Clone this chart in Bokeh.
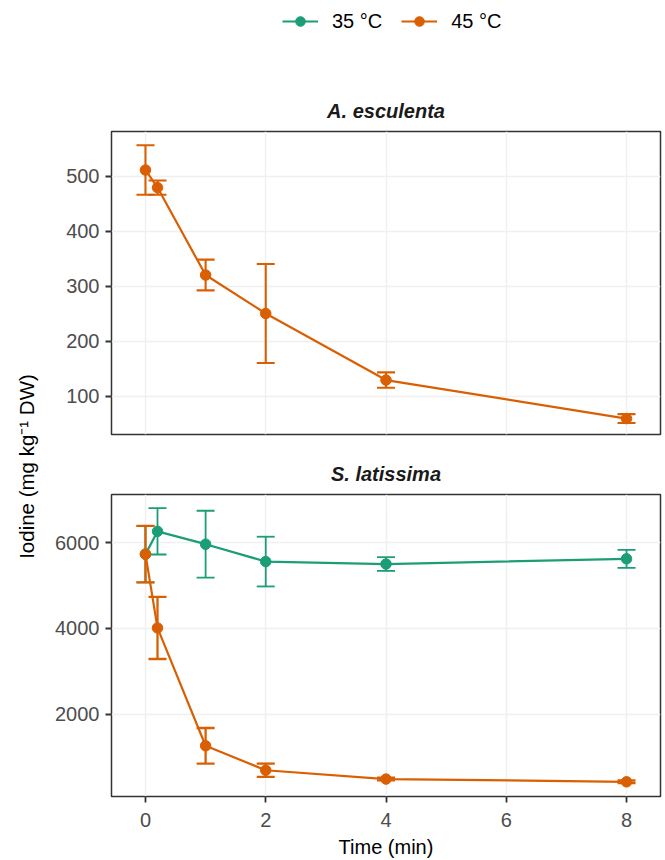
import math
from bokeh.plotting import figure
from bokeh.models import (Range1d, FixedTicker, Whisker, TeeHead, ColumnDataSource,
                          Legend, LegendItem, Label, Title)
from bokeh.layouts import row, column
from bokeh.embed import file_html
from bokeh.resources import INLINE

# ---------------- data ----------------
time_min = [0, 0.2, 1, 2, 4, 8]

ae_45_mean = [511, 479, 320, 250, 129, 59]
ae_45_sd = [45, 13, 28, 90, 14, 8]

sl_35_mean = [5730, 6262, 5963, 5557, 5500, 5622]
sl_35_sd = [660, 540, 780, 580, 160, 210]

sl_45_mean = [5730, 4010, 1260, 690, 484, 420]
sl_45_sd = [660, 725, 415, 155, 30, 30]

x_ticks = [0, 2, 4, 6, 8]
ae_y_ticks = [100, 200, 300, 400, 500]
sl_y_ticks = [2000, 4000, 6000]

series_labels = ["35 °C", "45 °C"]
panel_titles = ["A. esculenta", "S. latissima"]
x_title = "Time (min)"
y_title = "Iodine (mg kg\u207b\u00b9 DW)"

GREEN = "#1B9E77"
ORANGE = "#D95F02"
FONT = "Liberation Sans"
TICK_COL = "#4D4D4D"
FRAME_COL = "#333333"
GRID_COL = "#F0F0F0"

x_range = Range1d(-0.565, 8.565)


def make_panel(height, top_border, bottom_border, y_range, y_ticks, title, show_x):
    p = figure(width=625, height=height, x_range=x_range, y_range=y_range,
               toolbar_location=None, output_backend="svg",
               min_border_left=71, min_border_right=5,
               min_border_top=top_border, min_border_bottom=bottom_border)
    p.outline_line_color = FRAME_COL
    p.outline_line_width = 1.5
    p.background_fill_color = "white"
    p.border_fill_color = "white"
    t = Title(text=title, align="center", text_font=FONT, text_font_size="20px",
              text_font_style="bold italic", text_color="#1A1A1A", standoff=19)
    p.add_layout(t, "above")

    p.yaxis.ticker = FixedTicker(ticks=y_ticks)
    p.xaxis.ticker = FixedTicker(ticks=x_ticks)
    p.xgrid.ticker = FixedTicker(ticks=x_ticks)
    p.ygrid.ticker = FixedTicker(ticks=y_ticks)
    for g in (p.xgrid, p.ygrid):
        g.grid_line_color = GRID_COL
        g.grid_line_width = 1.5
        g.minor_grid_line_color = None

    for ax in (p.xaxis, p.yaxis):
        ax.axis_line_color = None
        ax.major_tick_line_color = FRAME_COL
        ax.major_tick_line_width = 1.8
        ax.major_tick_out = 6
        ax.major_tick_in = 0
        ax.minor_tick_line_color = None
        ax.major_label_text_font = FONT
        ax.major_label_text_font_size = "20px"
        ax.major_label_text_color = TICK_COL
        ax.axis_label_text_font = FONT
        ax.axis_label_text_font_size = "20px"
        ax.axis_label_text_font_style = "normal"
        ax.axis_label_text_color = "black"
    p.yaxis.major_label_standoff = 6
    p.xaxis.major_label_standoff = 10
    if show_x:
        p.xaxis.axis_label = x_title
        p.xaxis.axis_label_standoff = 6
    else:
        p.xaxis.visible = False
    return p


def add_series(p, xs, mean, sd, color, level="underlay", wwidth=2.1):
    src = ColumnDataSource(dict(
        x=xs, y=mean,
        upper=[m + s for m, s in zip(mean, sd)],
        lower=[m - s for m, s in zip(mean, sd)],
    ))
    w = Whisker(source=src, base="x", upper="upper", lower="lower", dimension="height",
                line_color=color, line_width=wwidth, level=level,
                upper_head=TeeHead(size=18, line_color=color, line_width=wwidth),
                lower_head=TeeHead(size=18, line_color=color, line_width=wwidth))
    p.add_layout(w)
    p.line("x", "y", source=src, line_color=color, line_width=2.2)
    p.scatter("x", "y", source=src, size=10.5, fill_color=color, line_color=color)


# ---------------- legend strip ----------------
lf = figure(width=625, height=40, x_range=Range1d(0, 1), y_range=Range1d(0, 1),
            toolbar_location=None, output_backend="svg", min_border=0)
lf.axis.visible = False
lf.grid.visible = False
lf.outline_line_color = None
items = []
for lab, col in zip(series_labels, [GREEN, ORANGE]):
    # placeholder renderers lying outside the visible range: only their legend glyphs show
    rl = lf.line([5, 6], [5, 6], line_color=col, line_width=2.2)
    rs = lf.scatter([5], [5], size=10, fill_color=col, line_color=col)
    items.append(LegendItem(label=lab, renderers=[rl, rs]))
leg = Legend(items=items, orientation="horizontal", location=(171, 7),
             glyph_width=36, glyph_height=24, label_standoff=14, spacing=19,
             padding=0, margin=0, border_line_color=None, background_fill_alpha=0,
             label_text_font=FONT, label_text_font_size="20px", label_text_color="black")
lf.add_layout(leg)

# ---------------- panels ----------------
top = make_panel(411, 91, 17, Range1d(30, 581), ae_y_ticks, panel_titles[0], False)
add_series(top, time_min, ae_45_mean, ae_45_sd, ORANGE)

bot = make_panel(409, 43, 62, Range1d(77, 7122), sl_y_ticks, panel_titles[1], True)
add_series(bot, time_min, sl_35_mean, sl_35_sd, GREEN, wwidth=1.8)
add_series(bot, time_min, sl_45_mean, sl_45_sd, ORANGE, level="glyph", wwidth=2.3)

# ---------------- y title strip ----------------
yf = figure(width=40, height=860, x_range=Range1d(0, 40), y_range=Range1d(0, 860),
            toolbar_location=None, output_backend="svg", min_border=0)
yf.axis.visible = False
yf.grid.visible = False
yf.outline_line_color = None
yf.add_layout(Label(x=26, y=860 - 466, text=y_title, angle=math.pi / 2,
                    text_align="center", text_baseline="middle",
                    text_font=FONT, text_font_size="20.5px", text_color="black"))

layout = row(yf, column(lf, top, bot))

open("out.html", "w").write(file_html(layout, INLINE))
